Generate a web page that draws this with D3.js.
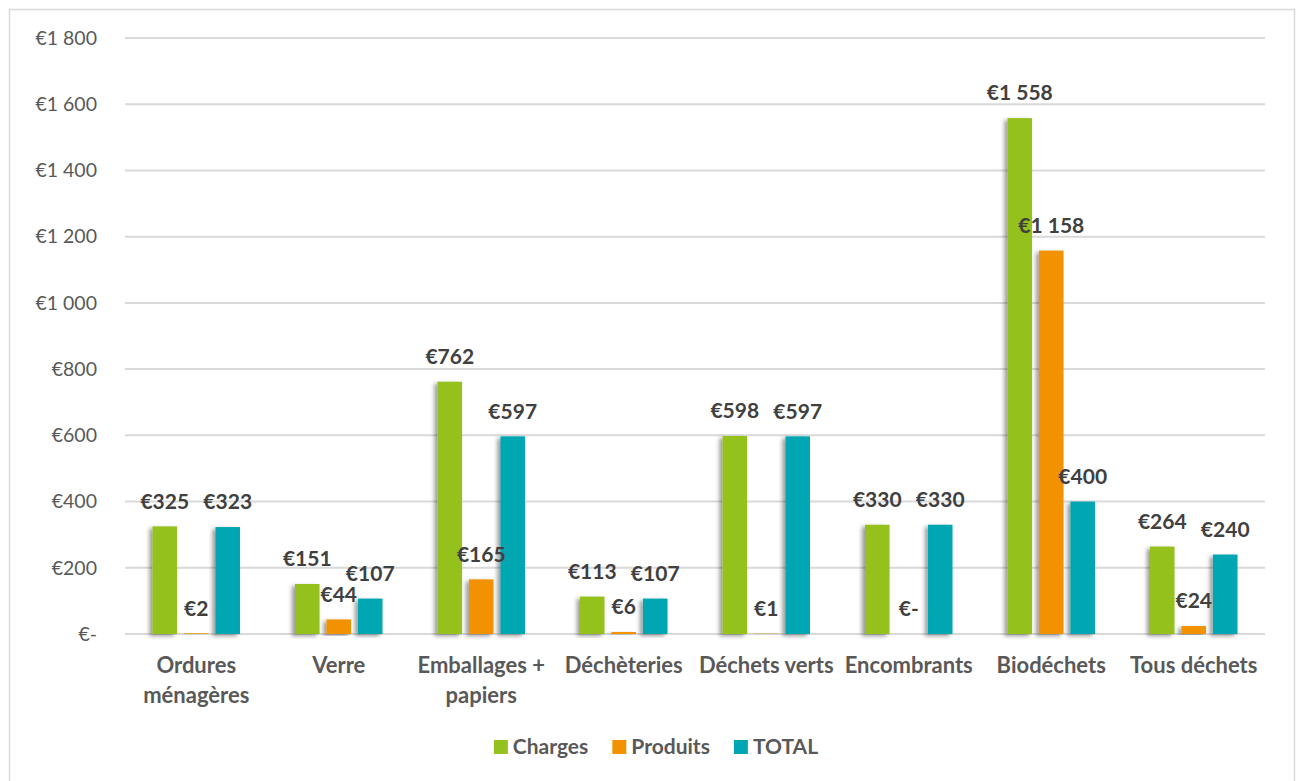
<!DOCTYPE html>
<html>
<head>
<meta charset="utf-8">
<script src="https://cdn.jsdelivr.net/npm/d3@7"></script>
<style>
    body { margin: 0; background: #fff; }
    svg { display: block; font-family: Lato, "Open Sans", sans-serif; }
</style>
</head>
<body>
<div id="chart"></div>
<script>
const categories = [
    ['Ordures', 'ménagères'],
    ['Verre'],
    ['Emballages +', 'papiers'],
    ['Déchèteries'],
    ['Déchets verts'],
    ['Encombrants'],
    ['Biodéchets'],
    ['Tous déchets']
];
const seriesNames = ['Charges', 'Produits', 'TOTAL'];
const charges = [325, 151, 762, 113, 598, 330, 1558, 264];
const produits = [2, 44, 165, 6, 1, 0, 1158, 24];
const total = [323, 107, 597, 107, 597, 330, 400, 240];
const yTicks = [0, 200, 400, 600, 800, 1000, 1200, 1400, 1600, 1800];
const colors = ['#95C11F', '#F39200', '#00A6B1'];

const width = 1300, height = 781;
const margin = { top: 38, right: 35, bottom: 147, left: 125 };

const values = [charges, produits, total];
const catKeys = categories.map(c => c.join(' '));

const locale = d3.formatLocale({ decimal: ',', thousands: '\u00a0', grouping: [3], currency: ['€', ''] });
const num = locale.format(',d');
const euro = v => v === 0 ? '€-' : '€' + num(v);

const svg = d3.select('#chart').append('svg')
    .attr('width', width)
    .attr('height', height);

const defs = svg.append('defs');
defs.append('filter')
    .attr('id', 'barShadow')
    .attr('x', '-50%').attr('y', '-10%')
    .attr('width', '200%').attr('height', '120%')
    .append('feDropShadow')
    .attr('dx', -3)
    .attr('dy', 2)
    .attr('stdDeviation', 2.2)
    .attr('flood-color', '#000')
    .attr('flood-opacity', 0.4);

// outer frame
svg.append('rect')
    .attr('x', 9.5).attr('y', 9.5)
    .attr('width', 1285).attr('height', 790)
    .attr('fill', 'none')
    .attr('stroke', '#d9d9d9')
    .attr('stroke-width', 1.5);

const y = d3.scaleLinear().domain([0, 1800]).range([height - margin.bottom, margin.top]);
const x0 = d3.scaleBand().domain(catKeys).range([margin.left, width - margin.right]).padding(0);
const groupW = 87.5;
const x1 = d3.scaleBand().domain(seriesNames)
    .range([(x0.bandwidth() - groupW) / 2, (x0.bandwidth() + groupW) / 2])
    .paddingInner(0.22).paddingOuter(0);

// grid
svg.append('g')
    .selectAll('line')
    .data(yTicks)
    .join('line')
    .attr('x1', margin.left)
    .attr('x2', width - margin.right)
    .attr('y1', d => y(d))
    .attr('y2', d => y(d))
    .attr('stroke', '#d9d9d9')
    .attr('stroke-width', 2);

// y tick labels
svg.append('g')
    .selectAll('text')
    .data(yTicks)
    .join('text')
    .attr('x', 97)
    .attr('y', d => y(d))
    .attr('dy', '0.35em')
    .attr('text-anchor', 'end')
    .attr('fill', '#595959')
    .style('font-size', '19.5px')
    .text(d => euro(d));

// bars
const rows = [];
catKeys.forEach((c, i) => {
    seriesNames.forEach((s, j) => rows.push({ cat: c, series: s, idx: j, value: values[j][i] }));
});

const barG = svg.append('g');
barG.selectAll('rect')
    .data(rows)
    .join('rect')
    .attr('x', d => x0(d.cat) + x1(d.series))
    .attr('y', d => y(d.value))
    .attr('width', x1.bandwidth())
    .attr('height', d => y(0) - y(d.value))
    .attr('fill', d => colors[d.idx])
    .attr('filter', 'url(#barShadow)');

// data labels
svg.append('g')
    .selectAll('text')
    .data(rows)
    .join('text')
    .attr('x', d => x0(d.cat) + x1(d.series) + x1.bandwidth() / 2)
    .attr('y', d => y(d.value) - 25)
    .attr('dy', '0.35em')
    .attr('text-anchor', 'middle')
    .attr('fill', '#404040')
    .style('font-size', '21px')
    .style('font-weight', 'bold')
    .text(d => euro(d.value));

// category labels
const catG = svg.append('g')
    .selectAll('text')
    .data(categories)
    .join('text')
    .attr('x', (d, i) => x0(catKeys[i]) + x0.bandwidth() / 2)
    .attr('y', 665)
    .attr('text-anchor', 'middle')
    .attr('fill', '#595959')
    .style('font-size', '22px')
    .style('font-weight', 'bold');
catG.selectAll('tspan')
    .data(d => d)
    .join('tspan')
    .attr('x', function() { return d3.select(this.parentNode).attr('x'); })
    .attr('dy', (d, i) => i === 0 ? '0.35em' : '1.36em')
    .text(d => d);

// legend
const legend = svg.append('g');
let lx = 0;
const items = legend.selectAll('g')
    .data(seriesNames)
    .join('g');
items.append('rect')
    .attr('width', 14)
    .attr('height', 14)
    .attr('y', -7)
    .attr('fill', (d, i) => colors[i]);
items.append('text')
    .attr('x', 19)
    .attr('dy', '0.35em')
    .attr('fill', '#595959')
    .style('font-size', '21px')
    .style('font-weight', 'bold')
    .text(d => d);
items.each(function() {
    d3.select(this).attr('transform', `translate(${lx},0)`);
    lx += this.getBBox().width + 24;
});
lx -= 24;
legend.attr('transform', `translate(${(width - lx) / 2 + 6},747)`);
</script>
</body>
</html>
